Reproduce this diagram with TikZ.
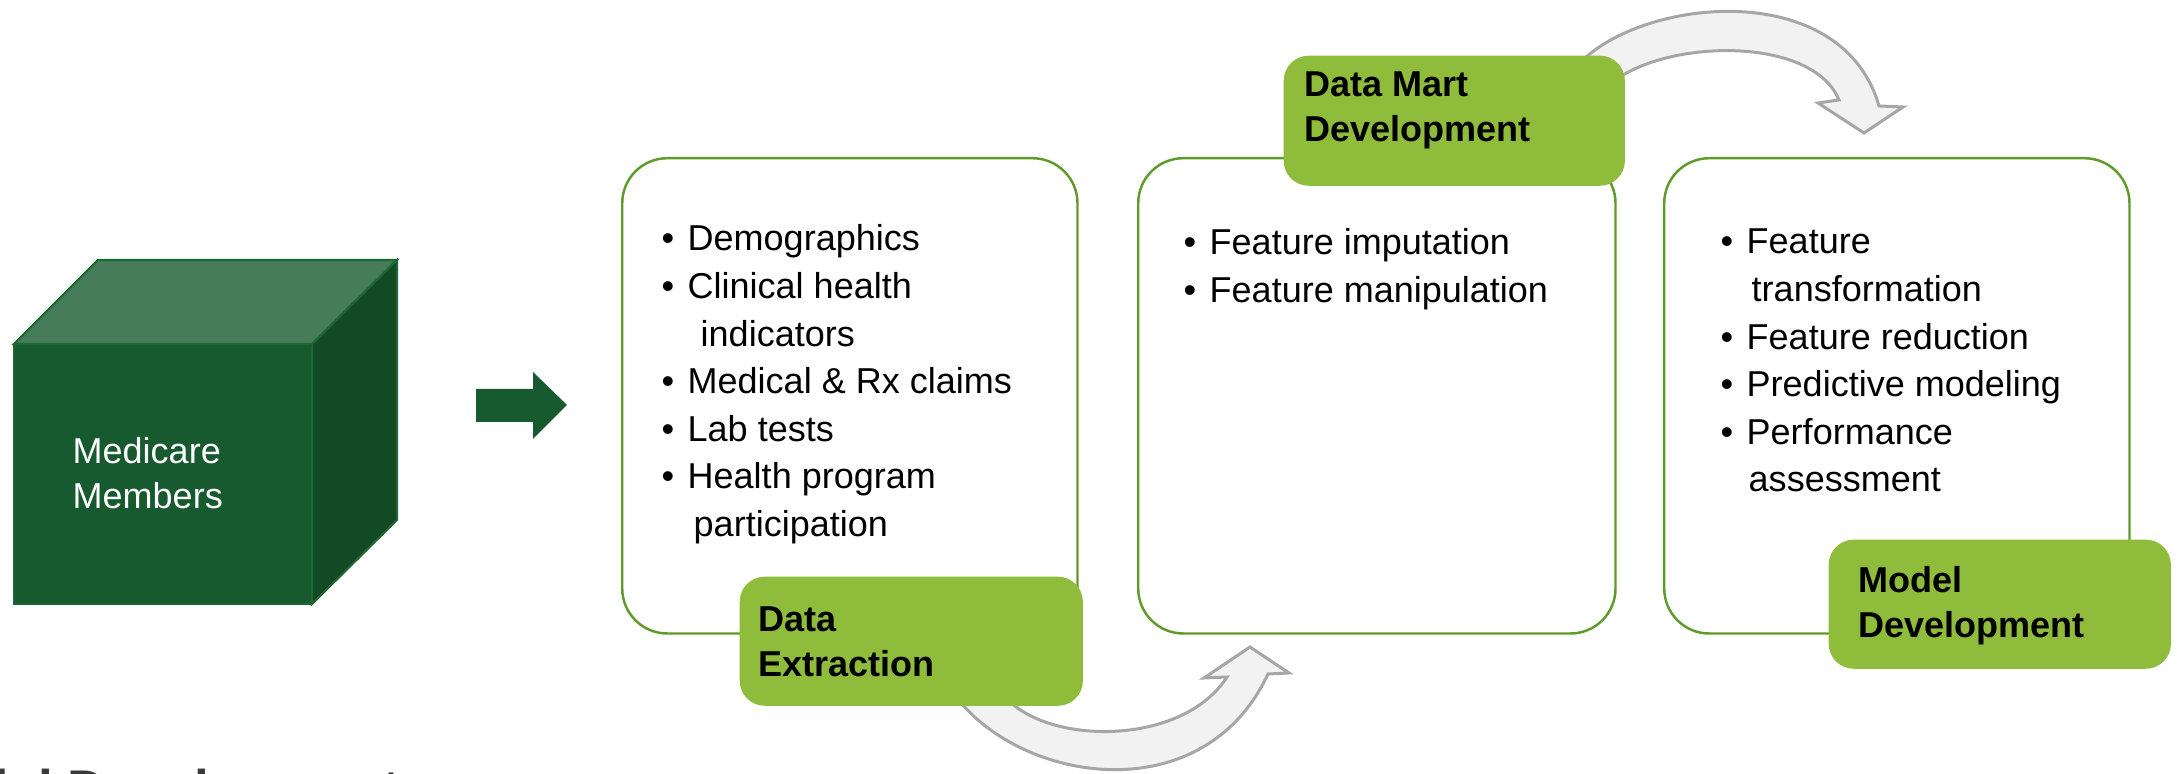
\documentclass[tikz,border=0pt]{standalone}
\usepackage{fontspec}
\setmainfont{Liberation Sans}
\definecolor{cubeF}{HTML}{175A30}
\definecolor{cubeT}{HTML}{467C5A}
\definecolor{cubeR}{HTML}{114A25}
\definecolor{cubeE}{HTML}{1E6634}
\definecolor{arrG}{HTML}{175A30}
\definecolor{labG}{HTML}{8FBC3A}
\definecolor{boxE}{HTML}{5E9B2A}
\definecolor{bArF}{HTML}{F2F2F2}
\definecolor{bArE}{HTML}{A6A6A6}
\definecolor{cutC}{HTML}{3A3A3A}
\newcommand{\bodyfont}{\fontsize{10.24}{13.52}\selectfont}
\newcommand{\labfont}{\fontsize{10.24}{12.52}\selectfont\bfseries}
\newcommand{\bul}{\makebox[0.26cm][l]{•}}
\begin{document}
\begin{tikzpicture}[x=0.01cm,y=-0.01cm,
  bx/.style={draw=boxE, line width=0.7pt, fill=white, rounded corners=0.45cm, inner sep=0pt, anchor=north west},
  lab/.style={fill=labG, rounded corners=0.25cm, inner sep=0pt, anchor=north west},
  txt/.style={inner sep=0pt, anchor=base west},
  barr/.style={fill=bArF, draw=bArE, line width=0.85pt, line join=miter}]
\useasboundingbox (0,0) rectangle (2177,774);

% cube
\filldraw[fill=cubeF, draw=cubeE, line width=0.6pt] (14,344) rectangle (312,604);
\filldraw[fill=cubeT, draw=cubeE, line width=0.6pt] (14,344) -- (98,260) -- (397,260) -- (312,344) -- cycle;
\filldraw[fill=cubeR, draw=cubeE, line width=0.6pt] (312,344) -- (397,260) -- (397,520) -- (312,604) -- cycle;
\node[txt, text=white] (memT) at (72,464) {\parbox[t]{3cm}{\fontsize{10.24}{12.52}\selectfont Medicare\\Members}};

% green arrow
\fill[arrG] (476,389) -- (533,389) -- (533,372) -- (567,405) -- (533,439) -- (533,422) -- (476,422) -- cycle;

% boxes
\node[bx, minimum width=4.55cm, minimum height=4.75cm] (b1) at (621,157) {};
\node[bx, minimum width=4.77cm, minimum height=4.75cm] (b2) at (1137,157) {};
\node[bx, minimum width=4.65cm, minimum height=4.75cm] (b3) at (1663,157) {};

\node[txt] (t1) at (661,251) {\parbox[t]{4cm}{\bodyfont
  \bul Demographics\\
  \bul Clinical health\\
  \hspace*{0.39cm}indicators\\
  \bul Medical \& Rx claims\\
  \bul Lab tests\\
  \bul Health program\\
  \hspace*{0.32cm}participation}};
\node[txt] (t2) at (1183,255) {\parbox[t]{4.3cm}{\bodyfont
  \bul Feature imputation\\
  \bul Feature manipulation}};
\node[txt] (t3) at (1720,254) {\parbox[t]{4cm}{\bodyfont
  \bul Feature\\
  \hspace*{0.31cm}transformation\\
  \bul Feature reduction\\
  \bul Predictive modeling\\
  \bul Performance\\
  \hspace*{0.28cm}assessment}};

% curved block arrows
\filldraw[barr] (945,680) .. controls (1000,780) and (1200,820) .. (1268,674)
  -- (1289,673) -- (1250,647) -- (1204,678) -- (1227,677)
  .. controls (1180,750) and (1035,745) .. (1000,690) -- cycle;
\filldraw[barr] (1570,75) .. controls (1620,0) and (1840,-30) .. (1879,106)
  -- (1903,107) -- (1864,133) -- (1818,103) -- (1839,100)
  .. controls (1810,30) and (1640,40) .. (1600,95) -- cycle;

% labels
\node[lab, minimum width=3.43cm, minimum height=1.29cm] (ext) at (739,576) {};
\node[lab, minimum width=3.41cm, minimum height=1.30cm] (mart) at (1283,55) {};
\node[lab, minimum width=3.42cm, minimum height=1.29cm] (model) at (1828,539) {};
\node[txt] (extT) at (758,632) {\parbox[t]{3.2cm}{\labfont Data\\Extraction}};
\node[txt] (martT) at (1304,97) {\parbox[t]{3.2cm}{\labfont Data Mart\\Development}};
\node[txt] (modelT) at (1858,593) {\parbox[t]{3.2cm}{\labfont Model\\Development}};

% cut-off text at bottom edge
\begin{scope}
\clip (0,0) rectangle (2177,774);
\node[txt, text=cutC, font=\fontsize{15.08}{18}\selectfont\bfseries] (cutT) at (-101,808) {Model Development};
\end{scope}
\end{tikzpicture}
\end{document}
